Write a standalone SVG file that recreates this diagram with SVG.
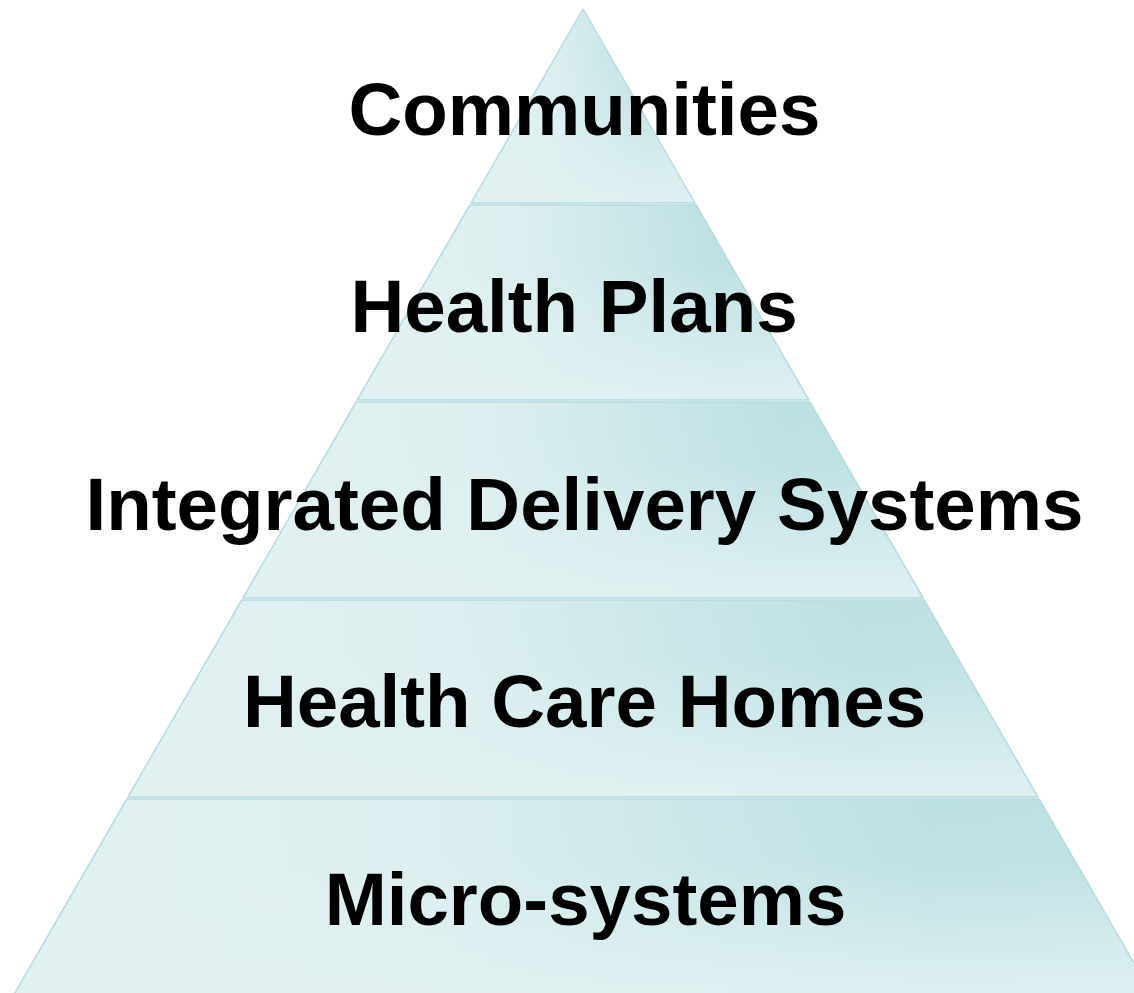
<svg xmlns="http://www.w3.org/2000/svg" width="1134" height="993" viewBox="0 0 1134 993">
  <defs>
    <linearGradient id="hfill" x1="0" y1="0" x2="1" y2="0">
      <stop offset="0" stop-color="#e2f1f2"/>
      <stop offset="0.35" stop-color="#ddeff0"/>
      <stop offset="0.8" stop-color="#bde0e3"/>
      <stop offset="1" stop-color="#c0e1e4"/>
    </linearGradient>
    <linearGradient id="vfade" x1="0" y1="0" x2="0" y2="1">
      <stop offset="0" stop-color="#e1f1f2" stop-opacity="0"/>
      <stop offset="0.3" stop-color="#e1f1f2" stop-opacity="0.05"/>
      <stop offset="1" stop-color="#e1f1f2" stop-opacity="0.95"/>
    </linearGradient>
    <style>
      .band { fill: url(#hfill); stroke: none; }
      .fade { fill: url(#vfade); stroke: #b4dce1; stroke-width: 1.5; stroke-linejoin: round; }
      .label { font-family: "Liberation Sans", Arial, sans-serif; font-weight: bold; font-size: 74.5px; fill: #000000; text-anchor: middle; }
    </style>
  </defs>
  <rect x="0" y="0" width="1134" height="993" fill="#ffffff"/>

  <g id="node-communities">
    <polygon class="band" points="583,9 695,203 471,203"/>
    <polygon class="fade" points="583,9 695,203 471,203"/>
    <text class="label" x="584.5" y="135">Communities</text>
  </g>

  <g id="node-health-plans">
    <polygon class="band" points="469.8,205 696.2,205 808.8,400 357.2,400"/>
    <polygon class="fade" points="469.8,205 696.2,205 808.8,400 357.2,400"/>
    <text class="label" x="574" y="332">Health Plans</text>
  </g>

  <g id="node-integrated-delivery-systems">
    <polygon class="band" points="356.1,402 809.9,402 923.1,598 242.9,598"/>
    <polygon class="fade" points="356.1,402 809.9,402 923.1,598 242.9,598"/>
    <text class="label" x="584.5" y="530">Integrated Delivery Systems</text>
  </g>

  <g id="node-health-care-homes">
    <polygon class="band" points="241.8,600 924.2,600 1038,797 128,797"/>
    <polygon class="fade" points="241.8,600 924.2,600 1038,797 128,797"/>
    <text class="label" x="584.5" y="727">Health Care Homes</text>
  </g>

  <g id="node-micro-systems">
    <polygon class="band" points="126.9,799 1039.1,799 1155.2,1000 10.8,1000"/>
    <polygon class="fade" points="126.9,799 1039.1,799 1155.2,1000 10.8,1000"/>
    <text class="label" x="585.5" y="925">Micro-systems</text>
  </g>
</svg>
